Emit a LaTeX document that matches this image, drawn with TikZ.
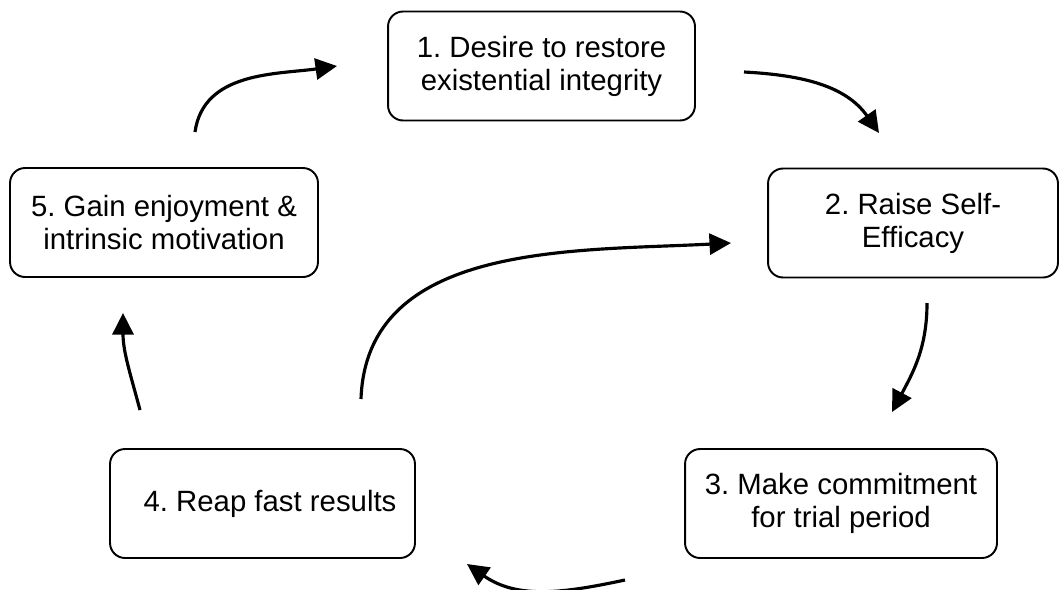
\documentclass[tikz,border=0pt]{standalone}
\usepackage{fontspec}
\setmainfont{Liberation Sans}
\usetikzlibrary{arrows.meta}
\tikzset{
  stage/.style={draw, line width=1.1pt, rounded corners=0.3cm, minimum width=#1, minimum height=2.18cm, inner sep=0pt, align=center, font=\fontsize{16.7pt}{18.8pt}\selectfont},
  flow/.style={line width=1.8pt, -{Triangle[length=0.43cm,width=0.42cm]}}
}
\frenchspacing

\begin{document}
\begin{tikzpicture}[x=0.02cm,y=-0.02cm]
			%%%%% START %%%%%
			\useasboundingbox (0,0) rectangle (1060,589);
			
			\node[stage=6.14cm] (desire) at (541.5,66) {1. Desire to restore\\existential integrity};
			\node[stage=5.8cm] (efficacy) at (913,223) {2. Raise Self-\\Efficacy};
			\node[stage=6.24cm] (commit) at (841,503.5) {3. Make commitment\\for trial period};
			\node[stage=6.1cm] (reap) at (262.5,503.5) {\hspace{0.3cm}4. Reap fast results};
			\node[stage=6.16cm] (enjoy) at (164,222.5) {5. Gain enjoyment \&\\intrinsic motivation};
			
			\coordinate (a1s) at (195,132);
			\coordinate (a1e) at (337,66);
			\coordinate (a2s) at (744,72);
			\coordinate (a2e) at (879,133);
			\coordinate (a3s) at (927,303);
			\coordinate (a3e) at (892,412);
			\coordinate (a4s) at (625,580);
			\coordinate (a4e) at (467,564);
			\coordinate (a5s) at (140,410);
			\coordinate (a5e) at (123,313);
			\coordinate (a6s) at (361,399);
			\coordinate (a6e) at (731,243);
			
			\draw[flow] (a1s) to[out=82,in=188] (a1e);
			\draw[flow] (a2s) to[out=-3,in=125] (a2e);
			\draw[flow] (a3s) to[out=-90,in=62] (a3e);
			\draw[flow] (a4s) to[out=192,in=-35] (a4e);
			\draw[flow] (a5s) to[out=105,in=-90] (a5e);
			\draw[flow] (a6s) to[out=88,in=183] (a6e);
			%%%%% END %%%%%
\end{tikzpicture}
\end{document}
